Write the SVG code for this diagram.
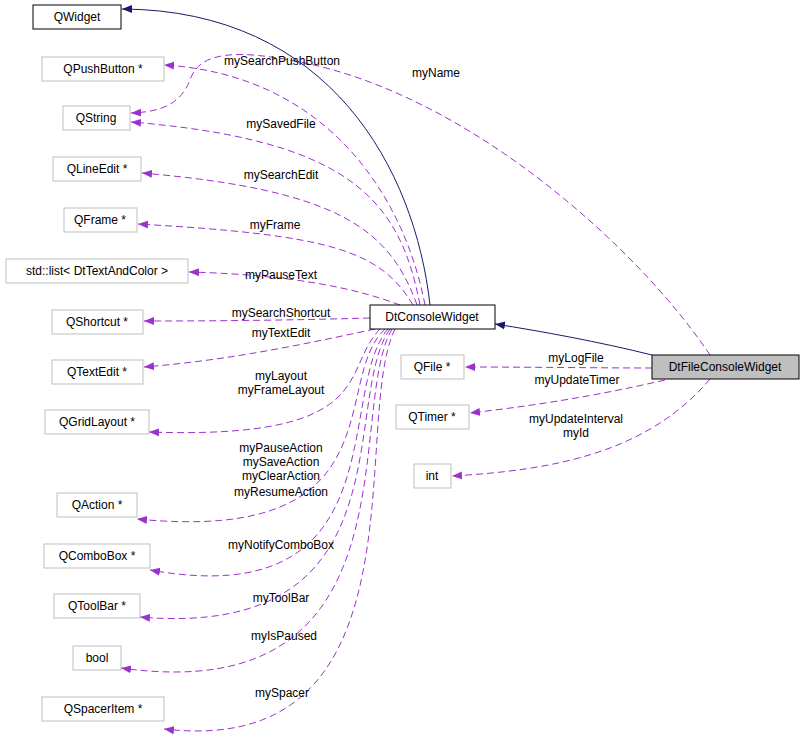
<svg xmlns="http://www.w3.org/2000/svg" width="805" height="743" viewBox="0 0 805 743">
<style>
text{font-family:"Liberation Sans",Arial,sans-serif;font-size:12px;fill:#000}
.n{fill:#fff;stroke:#bfbfbf;stroke-width:1}
.b{fill:#fff;stroke:#000;stroke-width:1}
.e{fill:none;stroke:#9a32cd;stroke-dasharray:7,4;stroke-width:1}
.i{fill:none;stroke:#191970;stroke-width:1}
.c{text-anchor:middle}
</style>
<defs>
<marker id="pa" viewBox="0 0 10 10" refX="10" refY="5" markerWidth="10" markerHeight="10" markerUnits="userSpaceOnUse" orient="auto"><path d="M0,1 L10,5 L0,9 Z" fill="#9a32cd"/></marker>
<marker id="na" viewBox="0 0 10 10" refX="10" refY="5" markerWidth="10" markerHeight="10" markerUnits="userSpaceOnUse" orient="auto"><path d="M0,1 L10,5 L0,9 Z" fill="#191970"/></marker>
</defs>
<rect width="805" height="743" fill="#fff"/>
<g id="connectors">
<path class="i" marker-end="url(#na)" d="M430,305 C415,170 330,10 122,9"/>
<path class="i" marker-end="url(#na)" d="M652,355 C600,342 540,331 495,324"/>
<path class="e" marker-end="url(#pa)" d="M710,355 C640,250 470,95 300,62 C240,50 200,50 190,80 C180,105 160,112 131,113"/>
<path class="e" marker-end="url(#pa)" d="M425,305 C405,200 330,75 164,65"/>
<path class="e" marker-end="url(#pa)" d="M420,305 C400,200 350,140 131,122"/>
<path class="e" marker-end="url(#pa)" d="M417,305 C390,230 340,190 142,173"/>
<path class="e" marker-end="url(#pa)" d="M413,305 C380,250 330,235 138,224"/>
<path class="e" marker-end="url(#pa)" d="M400,305 C360,290 300,275 189,272"/>
<path class="e" marker-end="url(#pa)" d="M370,318 C300,320 230,321 144,321"/>
<path class="e" marker-end="url(#pa)" d="M375,329 C300,345 230,360 144,367"/>
<path class="e" marker-end="url(#pa)" d="M380,329 C340,370 380,440 149,432"/>
<path class="e" marker-end="url(#pa)" d="M385,329 C330,380 400,545 137,519"/>
<path class="e" marker-end="url(#pa)" d="M388,329 C335,390 400,615 150,570"/>
<path class="e" marker-end="url(#pa)" d="M390,329 C340,400 410,640 140,617"/>
<path class="e" marker-end="url(#pa)" d="M392,329 C345,410 420,710 121,668"/>
<path class="e" marker-end="url(#pa)" d="M395,329 C350,420 430,760 164,729"/>
<path class="e" marker-end="url(#pa)" d="M652,368 C600,368 530,367 465,367"/>
<path class="e" marker-end="url(#pa)" d="M665,380 C600,395 540,405 470,413"/>
<path class="e" marker-end="url(#pa)" d="M710,379 C650,450 560,470 452,476"/>
</g>
<g id="labels">
<text x="436" y="77" class="c">myName</text>
<text x="282" y="65" class="c">mySearchPushButton</text>
<text x="281" y="128" class="c">mySavedFile</text>
<text x="281" y="179" class="c">mySearchEdit</text>
<text x="275" y="229" class="c">myFrame</text>
<text x="281" y="279" class="c">myPauseText</text>
<text x="281" y="317" class="c">mySearchShortcut</text>
<text x="281" y="337" class="c">myTextEdit</text>
<text x="281" y="380" class="c">myLayout</text>
<text x="281" y="394" class="c">myFrameLayout</text>
<text x="281" y="452" class="c">myPauseAction</text>
<text x="281" y="466" class="c">mySaveAction</text>
<text x="281" y="480" class="c">myClearAction</text>
<text x="281" y="496" class="c">myResumeAction</text>
<text x="281" y="549" class="c">myNotifyComboBox</text>
<text x="281" y="602" class="c">myToolBar</text>
<text x="284" y="640" class="c">myIsPaused</text>
<text x="282" y="697" class="c">mySpacer</text>
<text x="576" y="362" class="c">myLogFile</text>
<text x="577" y="384" class="c">myUpdateTimer</text>
<text x="576" y="423" class="c">myUpdateInterval</text>
<text x="576" y="437" class="c">myId</text>
</g>
<g id="QWidget"><rect class="b" x="33" y="5" width="88" height="24"/><text x="77" y="21" class="c">QWidget</text></g>
<g id="QPushButton"><rect class="n" x="42" y="57" width="122" height="24"/><text x="103" y="73" class="c">QPushButton *</text></g>
<g id="QString"><rect class="n" x="63" y="106" width="67" height="24"/><text x="96" y="122" class="c">QString</text></g>
<g id="QLineEdit"><rect class="n" x="53" y="157" width="88" height="24"/><text x="97" y="173" class="c">QLineEdit *</text></g>
<g id="QFrame"><rect class="n" x="64" y="208" width="73" height="24"/><text x="100" y="224" class="c">QFrame *</text></g>
<g id="stdlist"><rect class="n" x="6" y="259" width="182" height="24"/><text x="97" y="275" class="c">std::list&lt; DtTextAndColor &gt;</text></g>
<g id="QShortcut"><rect class="n" x="52" y="310" width="91" height="24"/><text x="97" y="326" class="c">QShortcut *</text></g>
<g id="QTextEdit"><rect class="n" x="52" y="360" width="91" height="24"/><text x="97" y="376" class="c">QTextEdit *</text></g>
<g id="QGridLayout"><rect class="n" x="45" y="410" width="104" height="24"/><text x="97" y="426" class="c">QGridLayout *</text></g>
<g id="QAction"><rect class="n" x="57" y="493" width="80" height="24"/><text x="97" y="509" class="c">QAction *</text></g>
<g id="QComboBox"><rect class="n" x="44" y="544" width="106" height="24"/><text x="97" y="560" class="c">QComboBox *</text></g>
<g id="QToolBar"><rect class="n" x="54" y="594" width="86" height="24"/><text x="97" y="610" class="c">QToolBar *</text></g>
<g id="bool"><rect class="n" x="73" y="646" width="48" height="24"/><text x="97" y="662" class="c">bool</text></g>
<g id="QSpacerItem"><rect class="n" x="42" y="697" width="122" height="24"/><text x="103" y="713" class="c">QSpacerItem *</text></g>
<g id="DtConsoleWidget"><rect class="b" x="370" y="305" width="125" height="24"/><text x="432" y="321" class="c">DtConsoleWidget</text></g>
<g id="DtFileConsoleWidget"><rect x="652" y="355" width="147" height="24" fill="#bfbfbf" stroke="#000"/><text x="725" y="371" class="c">DtFileConsoleWidget</text></g>
<g id="QFile"><rect class="n" x="401" y="355" width="63" height="24"/><text x="432" y="371" class="c">QFile *</text></g>
<g id="QTimer"><rect class="n" x="396" y="405" width="73" height="24"/><text x="432" y="421" class="c">QTimer *</text></g>
<g id="int"><rect class="n" x="414" y="464" width="37" height="24"/><text x="432" y="480" class="c">int</text></g>
</svg>
